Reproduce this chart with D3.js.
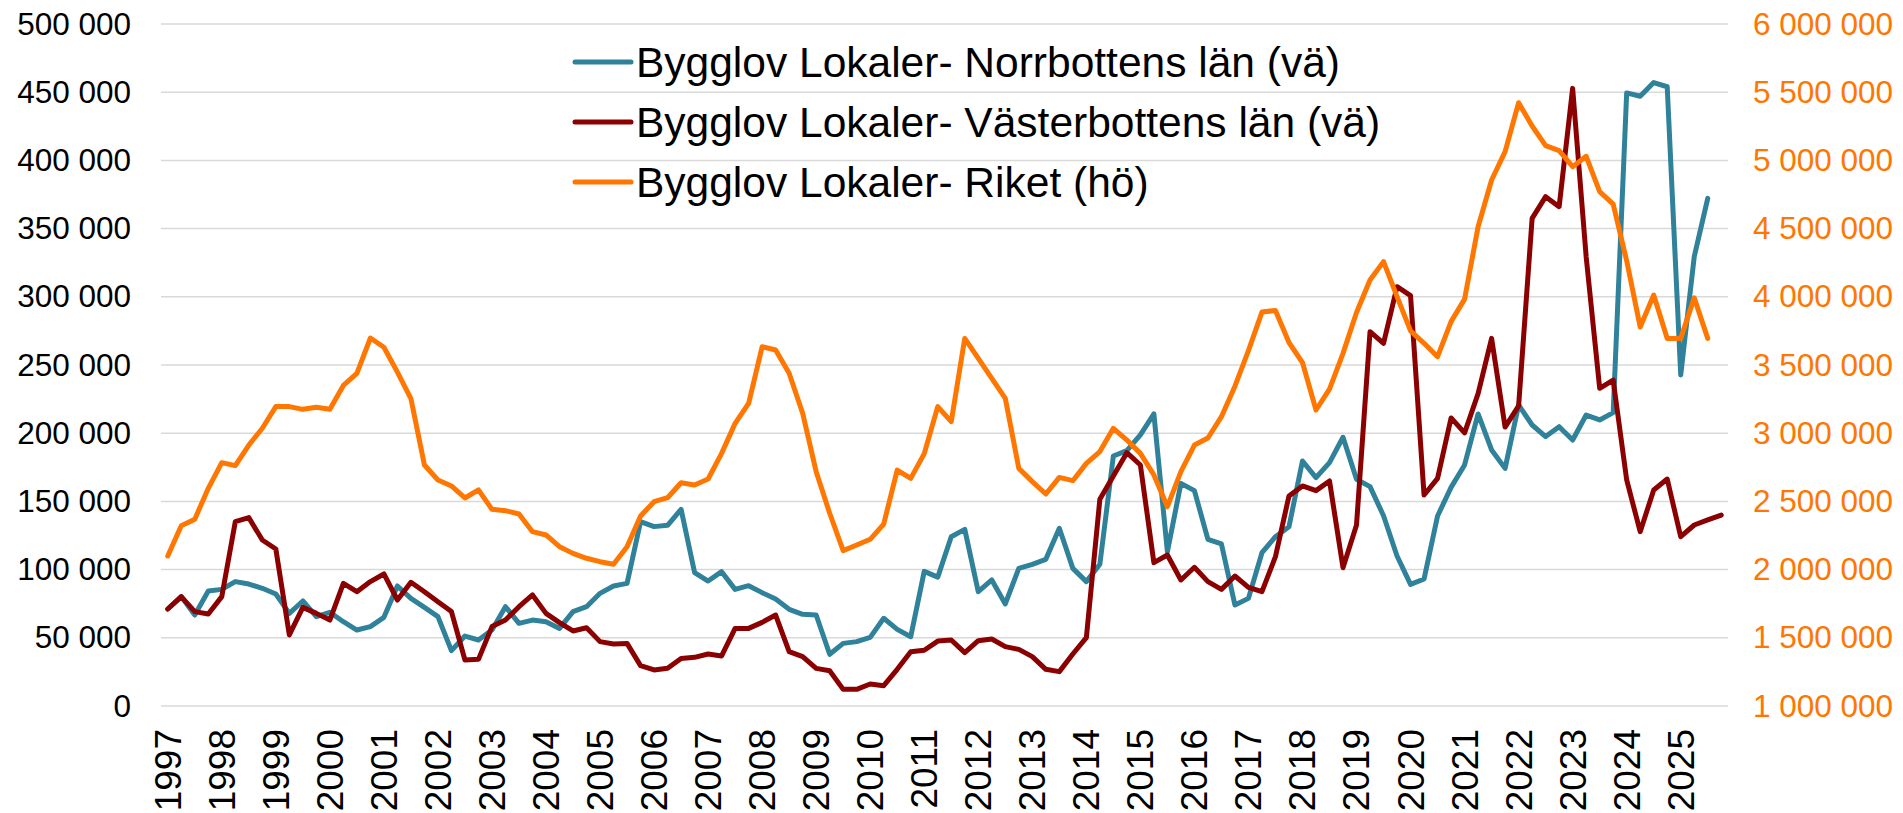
<!DOCTYPE html>
<html>
<head>
<meta charset="utf-8">
<script src="https://cdn.jsdelivr.net/npm/d3@7"></script>
<style>
  body { margin: 0; background: #fff; }
  svg { display: block; font-family: "Liberation Sans", Arial, sans-serif; }
</style>
</head>
<body>
<svg id="chart" width="1903" height="813"></svg>
<script>
// year labels on the category axis (each year has four quarters)
const years = [1997, 1998, 1999, 2000, 2001, 2002, 2003, 2004, 2005, 2006, 2007, 2008, 2009, 2010,
  2011, 2012, 2013, 2014, 2015, 2016, 2017, 2018, 2019, 2020, 2021, 2022, 2023, 2024, 2025];
const quarters = years.flatMap(y => [1, 2, 3, 4].map(q => y + 'K' + q));

// Norrbottens län, left axis
const norrbotten = [
  71100, 80200, 66700, 84300,
  85500, 91200, 89400, 86300,
  82100, 67900, 77000, 65500,
  68700, 61800, 55700, 58200,
  65000, 88000, 78900, 72300,
  65500, 40600, 51300, 48400,
  55700, 72800, 60600, 63000,
  61800, 56900, 69200, 72800,
  82600, 88000, 89900, 135100,
  131500, 132500, 144200, 97800,
  91600, 98500, 85500, 88200,
  83100, 78400, 70900, 67200,
  66700, 37900, 45900, 47200,
  50300, 64300, 56200, 50800,
  98700, 94500, 124100, 129500,
  83800, 92400, 74800, 100900,
  103900, 107500, 130300, 100900,
  91200, 103900, 183300, 187200,
  198700, 214100, 113100, 163200,
  157900, 122200, 118800, 74000,
  78900, 112400, 124100, 131500,
  179600, 167400, 178400, 197000,
  166200, 160800, 139500, 110000,
  89200, 93100, 139300, 160300,
  176700, 214100, 187700, 174200,
  220700, 206000, 197500, 204800,
  195000, 213300, 209700, 215100,
  449500, 447000, 457100, 454000,
  242700, 329400, 372200
];

// Västerbottens län, left axis
const vasterbotten = [
  71100, 80200, 69200, 67400,
  80200, 135100, 138100, 121700,
  115100, 52100, 72300, 67900,
  63000, 89900, 83800, 91200,
  96800, 77700, 90700, 83800,
  76500, 69200, 33700, 34200,
  58200, 63000, 72800, 81400,
  67900, 61100, 55000, 57400,
  47200, 45500, 45900, 29600,
  26400, 27600, 34900, 35700,
  38100, 36700, 56900, 56900,
  61300, 66700, 39800, 36200,
  27600, 25900, 12200, 12200,
  16100, 14900, 26900, 39800,
  40900, 47600, 48400, 39100,
  47900, 49100, 43500, 41500,
  36200, 26900, 25200, 38100,
  50100, 151500, 168600, 185700,
  176700, 105100, 110700, 92400,
  101700, 91200, 85500, 95300,
  87000, 83800, 109500, 154000,
  161300, 157900, 165000, 101400,
  132700, 274400, 265900, 307400,
  300900, 154700, 166900, 211200,
  200200, 229000, 269500, 204500,
  220000, 357500, 373400, 366100,
  452800, 329400, 232900, 239000,
  165700, 127800, 158400, 166400,
  124100, 132700, 136400, 140000
];

// Riket, right axis
const riket = [
  2100000, 2322000, 2369000, 2596000,
  2784000, 2762000, 2913000, 3036000,
  3195000, 3195000, 3175000, 3190000,
  3175000, 3350000, 3439000, 3698000,
  3630000, 3448000, 3254000, 2767000,
  2657000, 2613000, 2525000, 2584000,
  2442000, 2432000, 2408000, 2278000,
  2254000, 2168000, 2119000, 2083000,
  2058000, 2039000, 2168000, 2393000,
  2498000, 2527000, 2637000, 2620000,
  2664000, 2852000, 3072000, 3219000,
  3634000, 3610000, 3439000, 3146000,
  2718000, 2413000, 2139000, 2180000,
  2222000, 2334000, 2730000, 2669000,
  2850000, 3195000, 3085000, 3695000,
  3549000, 3402000, 3256000, 2742000,
  2645000, 2554000, 2676000, 2652000,
  2779000, 2865000, 3036000, 2950000,
  2852000, 2694000, 2461000, 2718000,
  2913000, 2965000, 3121000, 3345000,
  3605000, 3888000, 3900000, 3665000,
  3518000, 3170000, 3323000, 3585000,
  3885000, 4123000, 4258000, 4001000,
  3750000, 3659000, 3561000, 3818000,
  3983000, 4514000, 4856000, 5064000,
  5423000, 5252000, 5108000, 5071000,
  4954000, 5030000, 4771000, 4680000,
  4264000, 3778000, 4013000, 3695000,
  3695000, 3992000, 3695000
];

const leftTicks = [0, 50000, 100000, 150000, 200000, 250000, 300000, 350000, 400000, 450000, 500000];
const rightTicks = [1000000, 1500000, 2000000, 2500000, 3000000, 3500000, 4000000, 4500000, 5000000, 5500000, 6000000];

const series = [
  { name: 'Bygglov Lokaler- Norrbottens län (vä)', values: norrbotten, axis: 'left', color: '#30819A' },
  { name: 'Bygglov Lokaler- Västerbottens län (vä)', values: vasterbotten, axis: 'left', color: '#8B0000' },
  { name: 'Bygglov Lokaler- Riket (hö)', values: riket, axis: 'right', color: '#FF7600' }
];

const plotLeft = 161, plotRight = 1728, plotTop = 24, plotBottom = 706;
const svg = d3.select('#chart');
svg.append('rect').attr('width', 1903).attr('height', 813).attr('fill', '#fff');

const x = d3.scaleBand().domain(quarters).range([plotLeft, plotRight]);
const yLeft = d3.scaleLinear().domain([0, 500000]).range([plotBottom, plotTop]);
const yRight = d3.scaleLinear().domain([1000000, 6000000]).range([plotBottom, plotTop]);

const sv = d3.formatLocale({ decimal: ',', thousands: ' ', grouping: [3], currency: ['', ''] });
const fmt = sv.format(',d');

// gridlines
svg.append('g')
  .selectAll('line')
  .data(leftTicks)
  .enter()
  .append('line')
  .attr('x1', plotLeft)
  .attr('x2', plotRight)
  .attr('y1', d => yLeft(d))
  .attr('y2', d => yLeft(d))
  .attr('stroke', '#D9D9D9')
  .attr('stroke-width', 1.5);

// left axis
const axL = svg.append('g')
  .attr('transform', 'translate(' + plotLeft + ',0)')
  .call(d3.axisLeft(yLeft).tickValues(leftTicks).tickFormat(fmt).tickSize(0).tickPadding(30));
axL.select('.domain').remove();
axL.selectAll('text')
  .attr('font-size', 31.5)
  .attr('font-family', '"Liberation Sans", Arial, sans-serif')
  .attr('fill', '#000');

// right axis
const axR = svg.append('g')
  .attr('transform', 'translate(' + plotRight + ',0)')
  .call(d3.axisRight(yRight).tickValues(rightTicks).tickFormat(fmt).tickSize(0).tickPadding(25));
axR.select('.domain').remove();
axR.selectAll('text')
  .attr('font-size', 31.5)
  .attr('font-family', '"Liberation Sans", Arial, sans-serif')
  .attr('fill', '#FF7600');

// category axis, one label per year at the first quarter
const axB = svg.append('g')
  .attr('transform', 'translate(0,' + plotBottom + ')')
  .call(d3.axisBottom(x).tickValues(years.map(y => y + 'K1')).tickFormat(d => d.slice(0, 4)).tickSize(0));
axB.select('.domain').remove();
axB.selectAll('text')
  .attr('font-size', 37)
  .attr('font-family', '"Liberation Sans", Arial, sans-serif')
  .attr('fill', '#000')
  .attr('transform', 'rotate(-90)')
  .attr('text-anchor', 'end')
  .attr('x', -23)
  .attr('y', 0)
  .attr('dy', '0.35em');

// lines
const cx = (d, i) => x(quarters[i]) + x.bandwidth() / 2;
series.forEach(s => {
  const yScale = s.axis === 'left' ? yLeft : yRight;
  const line = d3.line().x(cx).y(d => yScale(d));
  svg.append('path')
    .datum(s.values)
    .attr('d', line)
    .attr('fill', 'none')
    .attr('stroke', s.color)
    .attr('stroke-width', 5)
    .attr('stroke-linejoin', 'round')
    .attr('stroke-linecap', 'round');
});

// legend
const legend = svg.append('g')
  .selectAll('g')
  .data(series)
  .enter()
  .append('g')
  .attr('transform', (d, i) => 'translate(575,' + (62 + i * 60) + ')');
legend.append('line')
  .attr('x1', 0).attr('x2', 56)
  .attr('stroke', d => d.color)
  .attr('stroke-width', 5)
  .attr('stroke-linecap', 'round');
legend.append('text')
  .attr('x', 61)
  .attr('dy', '0.35em')
  .attr('font-size', 42.5)
  .attr('fill', '#000')
  .text(d => d.name);
</script>
</body>
</html>
